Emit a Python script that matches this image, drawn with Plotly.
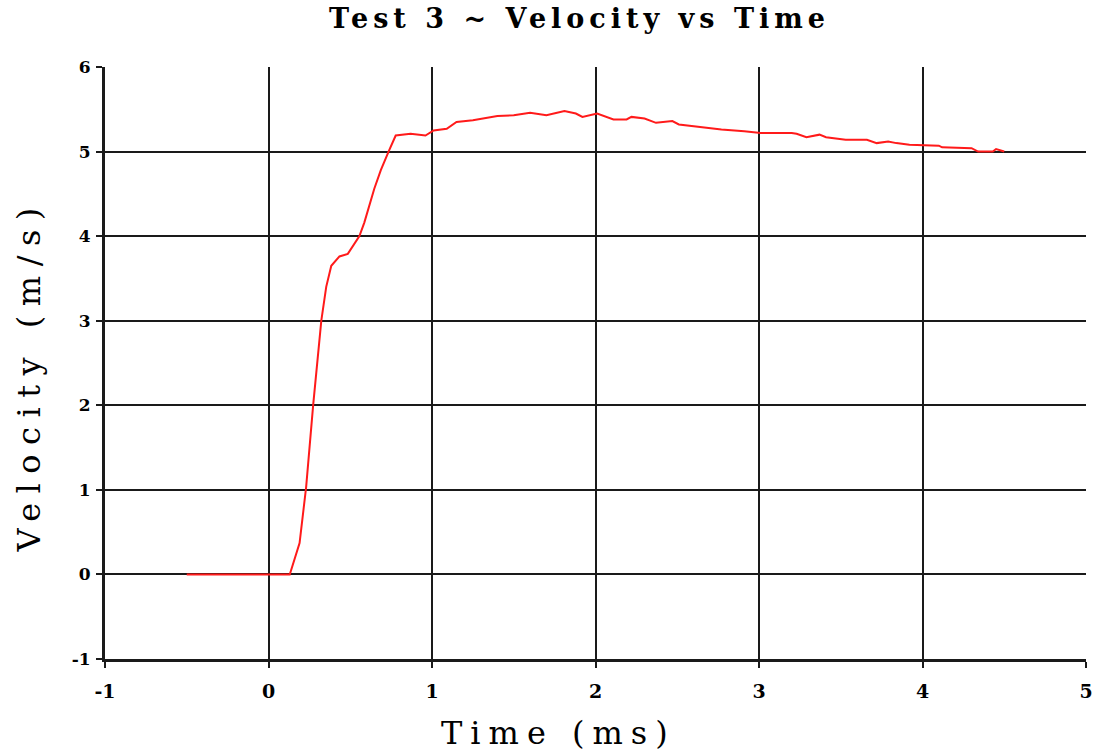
import plotly.graph_objects as go

time_ms = [-0.5, 0.0, 0.13, 0.19, 0.23, 0.273, 0.303, 0.323, 0.353, 0.384, 0.434, 0.485,
           0.556, 0.586, 0.647, 0.687, 0.737, 0.778, 0.869, 0.96, 1.01, 1.09, 1.15, 1.25,
           1.4, 1.5, 1.6, 1.7, 1.81, 1.88, 1.92, 2.01, 2.11, 2.19, 2.22, 2.30, 2.37, 2.47,
           2.51, 2.64, 2.77, 2.91, 3.01, 3.20, 3.23, 3.29, 3.37, 3.41, 3.53, 3.66, 3.72,
           3.79, 3.84, 3.92, 4.10, 4.12, 4.30, 4.34, 4.43, 4.45, 4.50]
velocity = [0.0, 0.0, 0.0, 0.37, 1.03, 2.0, 2.65, 3.0, 3.40, 3.65, 3.76, 3.79,
            4.0, 4.16, 4.56, 4.78, 5.01, 5.19, 5.21, 5.19, 5.25, 5.27, 5.35, 5.37,
            5.42, 5.43, 5.46, 5.43, 5.48, 5.45, 5.41, 5.45, 5.38, 5.38, 5.41, 5.39, 5.34, 5.36,
            5.32, 5.29, 5.26, 5.24, 5.22, 5.22, 5.21, 5.17, 5.20, 5.17, 5.14, 5.14, 5.10,
            5.12, 5.10, 5.08, 5.07, 5.05, 5.04, 5.00, 5.00, 5.03, 5.00]

x_ticks = [-1, 0, 1, 2, 3, 4, 5]
y_ticks = [-1, 0, 1, 2, 3, 4, 5, 6]

SERIF = "DejaVu Serif"

fig = go.Figure()
fig.add_trace(go.Scatter(x=time_ms, y=velocity, mode="lines",
                         line=dict(color="#ff1a1a", width=2), showlegend=False))

fig.update_layout(
    width=1104, height=753,
    margin=dict(l=105, r=11, t=67, b=94),
    paper_bgcolor="white", plot_bgcolor="white",
    annotations=[
        dict(text='<span style="letter-spacing:5px"><b>Test 3 ~ Velocity vs Time</b></span>',
             xref="paper", yref="paper",
             x=(583 - 105) / 988, y=1 + (67 - 18) / 592, showarrow=False,
             xanchor="center", yanchor="middle",
             font=dict(family=SERIF, size=27, color="black")),
        dict(text='<span style="letter-spacing:8px">Time (ms)</span>',
             xref="paper", yref="paper",
             x=(562 - 105) / 988, y=-(733 - 659) / 592, showarrow=False,
             xanchor="center", yanchor="middle",
             font=dict(family=SERIF, size=32, color="black")),
        dict(text='<span style="letter-spacing:9.5px">Velocity (m/s)</span>',
             xref="paper", yref="paper",
             x=-(105 - 28) / 988, y=(659 - 376) / 592, showarrow=False, textangle=-90,
             xanchor="center", yanchor="middle",
             font=dict(family=SERIF, size=32, color="black")),
    ],
)
fig.update_xaxes(range=[-1, 5], tickvals=x_ticks, ticktext=[str(v) for v in x_ticks],
                 showgrid=True, gridcolor="#1a1a1a", gridwidth=2,
                 showline=True, linecolor="#1a1a1a", linewidth=3, mirror=False,
                 ticks="outside", ticklen=6, tickcolor="#1a1a1a", tickwidth=2,
                 zeroline=False, ticklabelstandoff=7,
                 tickfont=dict(family=SERIF, size=19, color="black", weight="bold"))
fig.update_yaxes(range=[-1, 6], tickvals=y_ticks, ticktext=[str(v) for v in y_ticks],
                 showgrid=True, gridcolor="#1a1a1a", gridwidth=2,
                 showline=True, linecolor="#1a1a1a", linewidth=3, mirror=False,
                 ticks="outside", ticklen=6, tickcolor="#1a1a1a", tickwidth=2,
                 zeroline=False, ticklabelstandoff=2,
                 tickfont=dict(family=SERIF, size=17, color="black", weight="bold"))

fig.write_html("out.html")
